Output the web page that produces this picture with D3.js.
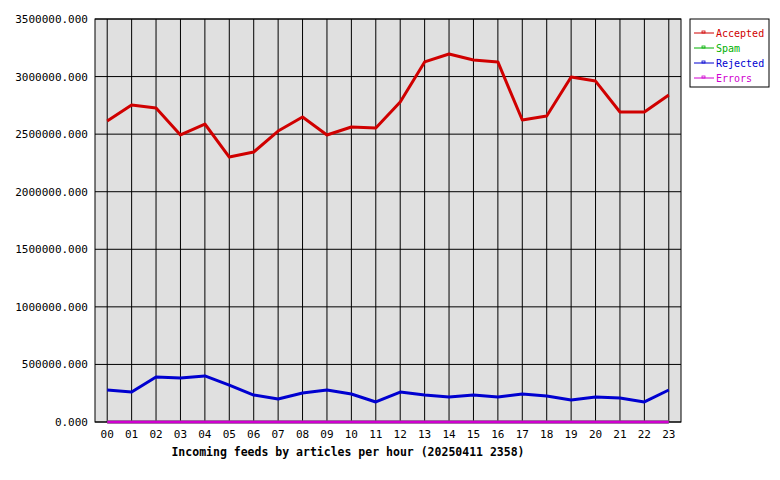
<!DOCTYPE html>
<html><head><meta charset="utf-8">
<script src="https://cdn.jsdelivr.net/npm/d3@7"></script>
<style>body{margin:0;background:#fff}text{font-family:"DejaVu Sans Mono",monospace;font-size:11px}</style>
</head><body><div id="chart"></div>
<script>
const hours = ["00","01","02","03","04","05","06","07","08","09","10","11","12","13","14","15","16","17","18","19","20","21","22","23"];
const accepted = [2614000,2753000,2727000,2493000,2588000,2301000,2345000,2527000,2649000,2493000,2562000,2553000,2779000,3127000,3196000,3144000,3127000,2623000,2658000,2996000,2961000,2692000,2692000,2840000];
const spam = Array(24).fill(0);
const rejected = [278000,260000,391000,382000,400000,321000,234000,200000,252000,278000,243000,174000,260000,234000,217000,234000,217000,243000,226000,191000,217000,208000,174000,278000];
const errors = Array(24).fill(0);
const yTicks = [0,500000,1000000,1500000,2000000,2500000,3000000,3500000];

const series = [
  {name:"Accepted", color:"#d00000", values:accepted},
  {name:"Spam", color:"#00b000", values:spam},
  {name:"Rejected", color:"#0000d0", values:rejected},
  {name:"Errors", color:"#d000d0", values:errors}
];

const svg = d3.select("#chart").append("svg").attr("width",780).attr("height",480);
const x = d3.scaleBand().domain(hours).range([95,681]);
const y = d3.scaleLinear().domain([0,3500000]).range([422,19]);

svg.append("rect").attr("x",95).attr("y",19).attr("width",586).attr("height",403)
  .attr("fill","#e0e0e0").attr("stroke","#000");

svg.selectAll(".hg").data(yTicks).enter().append("line")
  .attr("x1",95).attr("x2",681).attr("y1",d=>y(d)).attr("y2",d=>y(d)).attr("stroke","#000");
svg.selectAll(".vg").data(hours).enter().append("line")
  .attr("x1",d=>x(d)+x.bandwidth()/2).attr("x2",d=>x(d)+x.bandwidth()/2)
  .attr("y1",19).attr("y2",422).attr("stroke","#000");

svg.selectAll(".yl").data(yTicks).enter().append("text")
  .attr("x",88).attr("y",d=>y(d)+4).attr("text-anchor","end").text(d=>d+".000");
svg.selectAll(".xl").data(hours).enter().append("text")
  .attr("x",d=>x(d)+x.bandwidth()/2).attr("y",438).attr("text-anchor","middle").text(d=>d);
svg.append("text").attr("x",348).attr("y",456).attr("text-anchor","middle")
  .attr("font-weight","bold").style("font-size","11.5px")
  .text("Incoming feeds by articles per hour (20250411 2358)");

const line = d3.line().x((d,i)=>x(hours[i])+x.bandwidth()/2).y(d=>y(d));
series.forEach(s=>{
  svg.append("path").attr("d",line(s.values)).attr("fill","none")
    .attr("stroke",s.color).attr("stroke-width",3).attr("stroke-linejoin","round");
});

const lg = svg.append("g");
lg.append("rect").attr("x",690).attr("y",19).attr("width",79).attr("height",68)
  .attr("fill","#fff").attr("stroke","#000");
series.forEach((s,i)=>{
  const yy = 33+i*15;
  lg.append("line").attr("x1",694).attr("x2",714).attr("y1",yy).attr("y2",yy).attr("stroke",s.color);
  lg.append("rect").attr("x",702).attr("y",yy-2).attr("width",3).attr("height",2).attr("fill","none").attr("stroke",s.color).attr("stroke-width",0.8);
  lg.append("text").attr("x",716).attr("y",yy+4).attr("fill",s.color)
    .style("font-size","10px").text(s.name);
});
</script></body></html>
